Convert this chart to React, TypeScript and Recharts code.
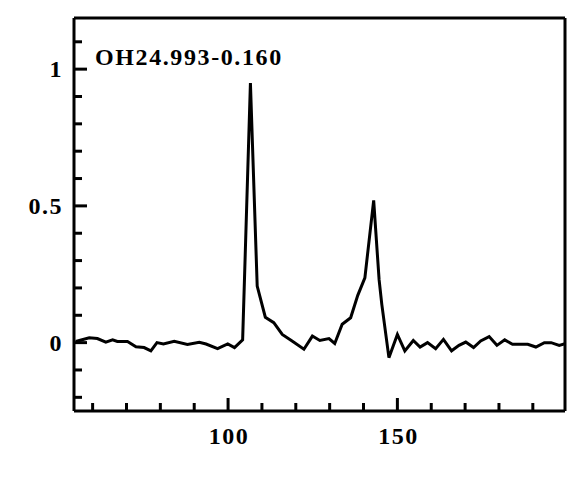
import { LineChart, Line, XAxis, YAxis } from "recharts";

// velocidade (km/s) e fluxo normalizado
const velocity = [
  55.0, 59.0, 61.4, 63.9, 65.9, 67.3, 70.3, 72.8, 75.2, 77.2, 79.0, 80.9, 84.1, 88.0,
  91.5, 93.5, 96.9, 99.9, 101.9, 104.3, 106.6, 108.6, 111.0, 113.5, 116.0, 118.9,
  122.4, 124.9, 127.1, 129.8, 131.5, 133.7, 136.2, 138.3, 140.4, 143.0, 144.6, 145.4,
  147.5, 150.0, 152.2, 154.7, 156.7, 158.9, 161.3, 163.6, 166.0, 168.2, 170.2, 172.5,
  174.6, 177.1, 179.4, 181.7, 184.0, 188.5, 190.9, 193.4, 195.4, 197.8, 199.5,
];
const flux = [
  0.004, 0.018, 0.015, 0.002, 0.01, 0.004, 0.004, -0.015, -0.018, -0.03, 0.0, -0.005,
  0.005, -0.007, 0.001, -0.005, -0.022, -0.005, -0.018, 0.01, 0.949, 0.207, 0.093,
  0.073, 0.03, 0.006, -0.024, 0.024, 0.008, 0.015, -0.003, 0.067, 0.091, 0.173, 0.237,
  0.52, 0.23, 0.14, -0.055, 0.03, -0.03, 0.008, -0.016, 0.0, -0.022, 0.012, -0.03,
  -0.01, 0.002, -0.018, 0.006, 0.022, -0.01, 0.01, -0.006, -0.006, -0.016, 0.0, 0.0,
  -0.01, -0.004,
];
const sourceName = "OH24.993-0.160";

const xTicks = [60, 70, 80, 90, 100, 110, 120, 130, 140, 150, 160, 170, 180, 190];
const xLabels = [100, 150];
const yTicks = [-0.2, -0.1, 0, 0.1, 0.2, 0.3, 0.4, 0.5, 0.6, 0.7, 0.8, 0.9, 1, 1.1];
const yLabels = [0, 0.5, 1];

const data = velocity.map((v, i) => ({ v, f: flux[i] }));

const FONT = "'Liberation Serif', serif";

const isLabel = (list: number[], value: number) =>
  list.some((l) => Math.abs(l - value) < 1e-6);

// marca do eixo X voltada para dentro + rótulo só nos principais
const XTick = (props: any) => {
  const { x, y, payload } = props;
  const major = isLabel(xLabels, payload.value);
  return (
    <g>
      <line x1={x} x2={x} y1={y} y2={y - (major ? 13 : 8)} stroke="#000" strokeWidth={3} />
      {major && (
        <text x={x + 1} y={y + 33} textAnchor="middle" fontFamily={FONT} fontWeight="bold" fontSize={24} letterSpacing={1.5} fill="#000">
          {payload.value}
        </text>
      )}
    </g>
  );
};

const YTick = (props: any) => {
  const { x, y, payload } = props;
  const major = isLabel(yLabels, payload.value);
  return (
    <g>
      <line x1={x} x2={x + (major ? 13 : 8)} y1={y} y2={y} stroke="#000" strokeWidth={3} />
      {major && (
        <text x={x - 11} y={y + 8} textAnchor="end" fontFamily={FONT} fontWeight="bold" fontSize={24} letterSpacing={1.5} fill="#000">
          {payload.value}
        </text>
      )}
    </g>
  );
};

export default function App() {
  return (
    <div style={{ position: "absolute", left: 0, top: 0, width: 568, height: 486, background: "#fff" }}>
      <LineChart width={568} height={486} data={data} margin={{ top: 0, right: 0, bottom: 0, left: 0 }}>
        <XAxis
          dataKey="v"
          type="number"
          domain={[54.5, 199.5]}
          ticks={xTicks}
          interval={0}
          tick={<XTick />}
          tickLine={false}
          tickSize={0}
          tickMargin={0}
          height={75}
          axisLine={{ stroke: "#000", strokeWidth: 3 }}
          allowDataOverflow
        />
        <XAxis
          xAxisId="top"
          orientation="top"
          type="number"
          domain={[54.5, 199.5]}
          tick={false}
          tickLine={false}
          height={18}
          axisLine={{ stroke: "#000", strokeWidth: 3 }}
        />
        <YAxis
          type="number"
          domain={[-0.25, 1.187]}
          ticks={yTicks}
          interval={0}
          tick={<YTick />}
          tickLine={false}
          tickSize={0}
          tickMargin={0}
          width={74}
          axisLine={{ stroke: "#000", strokeWidth: 3 }}
          allowDataOverflow
        />
        <YAxis
          yAxisId="right"
          orientation="right"
          type="number"
          domain={[-0.25, 1.187]}
          tick={false}
          tickLine={false}
          width={3}
          axisLine={{ stroke: "#000", strokeWidth: 3 }}
        />
        <Line
          dataKey="f"
          stroke="#000"
          strokeWidth={3}
          dot={false}
          isAnimationActive={false}
          strokeLinejoin="miter"
        />
      </LineChart>
      <div
        style={{
          position: "absolute",
          left: 95,
          top: 43,
          fontFamily: FONT,
          fontWeight: "bold",
          fontSize: 24,
          lineHeight: "28px",
          letterSpacing: "1.6px",
          color: "#000",
          whiteSpace: "nowrap",
        }}
      >
        {sourceName}
      </div>
    </div>
  );
}
